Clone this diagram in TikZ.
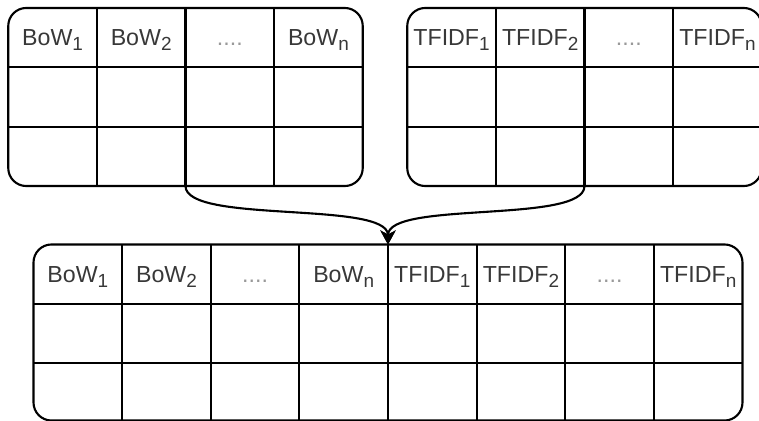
\documentclass[tikz,border=0pt]{standalone}
\usepackage{fontspec}
\setmainfont{Liberation Sans}
\usetikzlibrary{positioning, arrows.meta}

\newcommand{\idx}[1]{\raisebox{-3.5pt}{\fontsize{13.5}{13.5}\selectfont #1}}
\newcommand{\gapdots}{....}

\begin{document}
\begin{tikzpicture}[
        % ----- global styles -----
        x=0.025cm, y=-0.025cm,
        line width=1.5pt,
        >={Stealth[length=0.35cm, width=0.38cm, inset=0.1cm]},
        % tables and their cells
        table/.style={draw, rounded corners=0.45cm, outer sep=0pt, inner sep=0pt,
            minimum width=8.86cm, minimum height=4.45cm},
        head/.style={anchor=base, inner sep=0pt, text=black!78, font=\fontsize{16.5}{19}\selectfont},
        dots/.style={head, text=black!40},
        link/.style={->}
    ]
    \useasboundingbox (0,0) rectangle (759,421);

    % ----- tables -----
    \node[table] (bow) at (185.5,97) {};
    \node[table] (tfidf) at (584.5,97) {};
    \node[table, minimum width=17.72cm, minimum height=4.4cm] (all) at (388,332.5) {};

    % ----- grid lines -----
    \foreach \t/\n in {bow/4, tfidf/4, all/8} {
        \foreach \r in {1,2}
            \draw ([yshift={-\r*1.483cm}]\t.north west) -- ([yshift={-\r*1.483cm}]\t.north east);
        \pgfmathtruncatemacro{\m}{\n-1}
        \foreach \c in {1,...,\m}
            \draw ([xshift={\c*2.215cm}]\t.north west) -- ([xshift={\c*2.215cm}]\t.south west);
    }

    % ----- header cells -----
    \foreach \c/\st/\txt in {1/head/BoW\idx{1}, 2/head/BoW\idx{2}, 3/dots/\gapdots, 4/head/BoW\idx{n}}
        \node[\st] (bow-\c) at ([xshift={(\c-0.5)*2.215cm}, yshift=-0.94cm]bow.north west) {\txt};
    \foreach \c/\st/\txt in {1/head/TFIDF\idx{1}, 2/head/TFIDF\idx{2}, 3/dots/\gapdots, 4/head/TFIDF\idx{n}}
        \node[\st] (tfidf-\c) at ([xshift={(\c-0.5)*2.215cm}, yshift=-0.94cm]tfidf.north west) {\txt};
    \foreach \c/\st/\txt in {1/head/BoW\idx{1}, 2/head/BoW\idx{2}, 3/dots/\gapdots, 4/head/BoW\idx{n},
            5/head/TFIDF\idx{1}, 6/head/TFIDF\idx{2}, 7/dots/\gapdots, 8/head/TFIDF\idx{n}}
        \node[\st] (all-\c) at ([xshift={(\c-0.5)*2.215cm}, yshift=-0.94cm]all.north west) {\txt};

    % ----- merge arrows -----
    \draw[link] (bow.south) .. controls +(0,-0.95cm) and +(0,1.1cm) .. (all.north);
    \draw[link] (tfidf.south) .. controls +(0,-0.95cm) and +(0,1.1cm) .. (all.north);
\end{tikzpicture}
\end{document}
